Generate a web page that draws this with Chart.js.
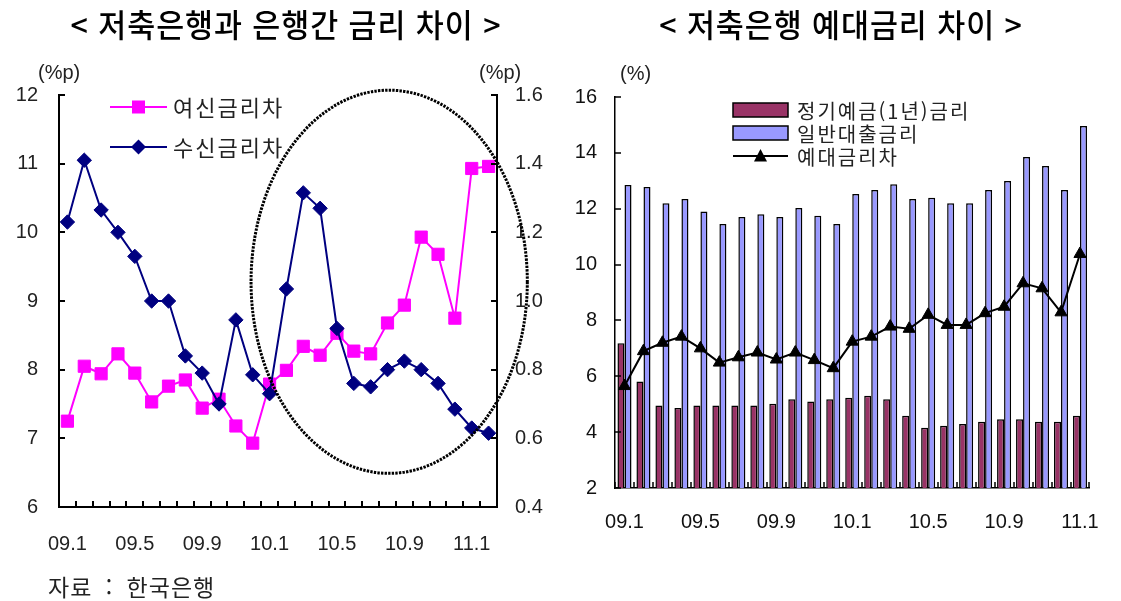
<!DOCTYPE html>
<html lang="ko">
<head>
<meta charset="utf-8">
<title>저축은행 금리 차이</title>
<script src="https://cdn.jsdelivr.net/npm/chart.js@4.4.1/dist/chart.umd.min.js"></script>
<style>
  html, body { margin: 0; padding: 0; background: #fff; }
  #wrap { position: relative; width: 1121px; height: 601px; overflow: hidden; }
  .pane { position: absolute; top: 0; height: 601px; }
  #paneA { left: 0; width: 560px; }
  #paneB { left: 560px; width: 561px; }
  .title {
    position: absolute; top: 3px; white-space: nowrap;
    font-family: "Noto Sans CJK KR", sans-serif; font-size: 32px; font-weight: 500;
    line-height: 40px; color: #000; letter-spacing: 1px;
    transform: translateX(-50%) scaleX(0.95);
  }
  .unit {
    position: absolute; white-space: nowrap; line-height: 20px;
    font-family: "Liberation Sans", Arial, sans-serif; font-size: 20px; color: #222;
  }
  .src {
    position: absolute; left: 48px; top: 572px; white-space: nowrap;
    font-family: "Noto Sans CJK KR", sans-serif; font-size: 23px; line-height: 28px; color: #222;
    letter-spacing: 1px; word-spacing: 6px;
  }
</style>
</head>
<body>
<div id="wrap">
  <div class="pane" id="paneA"><canvas id="gapChart" width="560" height="601"></canvas></div>
  <div class="pane" id="paneB"><canvas id="spreadChart" width="561" height="601"></canvas></div>
  <div class="title" style="left:286px">&lt; 저축은행과 은행간 금리 차이 &gt;</div>
  <div class="title" style="left:841px">&lt; 저축은행 예대금리 차이 &gt;</div>
  <div class="unit" style="left:38px; top:62px">(%p)</div>
  <div class="unit" style="left:479px; top:62px">(%p)</div>
  <div class="unit" style="left:620px; top:63px">(%)</div>
  <div class="src">자료 : 한국은행</div>
</div>
<script>
// 저축은행과 은행간 금리 차이 (09.1 ~ 11.2, 월별)
const gapMonths = ['09.1','09.2','09.3','09.4','09.5','09.6','09.7','09.8','09.9','09.10','09.11','09.12',
                   '10.1','10.2','10.3','10.4','10.5','10.6','10.7','10.8','10.9','10.10','10.11','10.12',
                   '11.1','11.2'];
const lendingGap = [7.25, 8.05, 7.94, 8.23, 7.95, 7.53, 7.76, 7.85, 7.44, 7.57, 7.18, 6.93,
                    7.79, 7.99, 8.34, 8.21, 8.53, 8.27, 8.23, 8.68, 8.94, 9.93, 9.68, 8.75,
                    10.93, 10.96];   // 여신금리차, 왼쪽 축
const depositGap = [1.23, 1.41, 1.265, 1.20, 1.13, 1.00, 1.00, 0.84, 0.79, 0.70, 0.945, 0.785,
                    0.73, 1.035, 1.315, 1.27, 0.92, 0.76, 0.75, 0.80, 0.825, 0.80, 0.76, 0.685,
                    0.63, 0.615];    // 수신금리차, 오른쪽 축
const gapTicksLeft = [6, 7, 8, 9, 10, 11, 12];
const gapTicksRight = [0.4, 0.6, 0.8, 1.0, 1.2, 1.4, 1.6];

// 저축은행 예대금리 (09.1 ~ 11.1)
const rateMonths = gapMonths.slice(0, 25);
const timeDepositRate = [7.18, 5.81, 4.95, 4.86, 4.95, 4.95, 4.95, 4.95, 5.02, 5.18, 5.10, 5.18,
                         5.23, 5.30, 5.18, 4.59, 4.16, 4.23, 4.29, 4.37, 4.46, 4.46, 4.37, 4.37, 4.59];
const loanRate = [12.85, 12.78, 12.20, 12.35, 11.90, 11.45, 11.70, 11.80, 11.70, 12.03, 11.75, 11.45,
                  12.53, 12.67, 12.88, 12.35, 12.39, 12.20, 12.20, 12.67, 12.99, 13.85, 13.53, 12.67, 14.96];
const loanDepositSpread = [5.65, 6.90, 7.20, 7.42, 7.00, 6.49, 6.68, 6.85, 6.60, 6.85, 6.58, 6.29,
                           7.24, 7.42, 7.78, 7.70, 8.20, 7.84, 7.84, 8.26, 8.49, 9.33, 9.15, 8.29, 10.38];
const rateTicks = [2, 4, 6, 8, 10, 12, 14, 16];

const LABEL_EVERY = 4;
const tickFont = { family: '"Liberation Sans", Arial, sans-serif', size: 20 };

// Chart.js only draws tick marks outside the axis; these go inward.
const innerTicks = {
  id: 'innerTicks',
  afterDatasetsDraw(chart, args, o) {
    const { ctx, chartArea: a } = chart;
    const xs = chart.scales.x;
    const n = chart.data.labels.length;
    const half = (xs.getPixelForValue(1) - xs.getPixelForValue(0)) / 2;
    ctx.save();
    ctx.strokeStyle = '#000';
    ctx.lineWidth = o.width;
    ctx.beginPath();
    for (let i = 0; i <= n; i++) {
      const px = Math.round(xs.getPixelForValue(i) - half);
      ctx.moveTo(px, a.bottom);
      ctx.lineTo(px, a.bottom - o.length);
    }
    Object.values(chart.scales).forEach(s => {
      if (s.axis !== 'y') return;
      s.ticks.forEach(t => {
        const py = Math.round(s.getPixelForValue(t.value));
        const x0 = s.position === 'left' ? s.right : s.left;
        const dir = s.position === 'left' ? 1 : -1;
        ctx.moveTo(x0, py);
        ctx.lineTo(x0 + dir * o.length, py);
      });
    });
    ctx.stroke();
    ctx.restore();
  }
};

// fixed axis sizes so both plots sit where they should on the page
const fixWidth = w => scale => { scale.width = w; };
const fixHeight = h => scale => { scale.height = h; };

function everyFourth(labels) {
  return (v, i) => (i % LABEL_EVERY === 0 ? labels[i] : '');
}

function diamond(ctx, x, y, r) {
  ctx.beginPath();
  ctx.moveTo(x, y - r); ctx.lineTo(x + r, y); ctx.lineTo(x, y + r); ctx.lineTo(x - r, y);
  ctx.closePath(); ctx.fill();
}

// 여신/수신 금리차 범례 + 점선 타원 표시
const highlight = { index: 19.1, value: 9.28, spanIndex: 8.2, spanValue: 2.79 };

const gapOverlay = {
  id: 'gapOverlay',
  afterDraw(chart) {
    const { ctx } = chart;
    const xs = chart.scales.x, ys = chart.scales.y;
    const cx = xs.getPixelForValue(highlight.index);
    const cy = ys.getPixelForValue(highlight.value);
    const rx = xs.getPixelForValue(highlight.index + highlight.spanIndex) - cx;
    const ry = cy - ys.getPixelForValue(highlight.value + highlight.spanValue);
    ctx.save();
    ctx.strokeStyle = '#000';
    ctx.lineWidth = 3;
    ctx.setLineDash([2.4, 1.2]);
    ctx.beginPath();
    ctx.ellipse(cx, cy, rx, ry, 0, 0, Math.PI * 2);
    ctx.stroke();
    ctx.restore();

    const ds = chart.data.datasets;
    const rows = [ds.find(d => d.yAxisID === 'y'), ds.find(d => d.yAxisID === 'y1')];
    ctx.save();
    ctx.font = '22px "Noto Sans CJK KR", sans-serif';
    ctx.textBaseline = 'middle';
    rows.forEach((d, k) => {
      const y = 107 + k * 40;
      ctx.strokeStyle = d.borderColor;
      ctx.fillStyle = d.borderColor;
      ctx.lineWidth = 2;
      ctx.beginPath(); ctx.moveTo(110, y); ctx.lineTo(167, y); ctx.stroke();
      if (d.pointStyle === 'rect') ctx.fillRect(132, y - 6.5, 13, 13);
      else diamond(ctx, 138.5, y, 7.5);
      ctx.fillStyle = '#222';
      ctx.letterSpacing = '2px';
      ctx.fillText(d.label, 173, y + 1);
    });
    ctx.restore();
  }
};

new Chart(document.getElementById('gapChart'), {
  type: 'line',
  data: {
    labels: gapMonths,
    datasets: [
      {
        label: '여신금리차', data: lendingGap, yAxisID: 'y', order: 1,
        borderColor: '#FF00FF', backgroundColor: '#FF00FF', borderWidth: 2,
        pointStyle: 'rect', pointRadius: 8.6, pointBorderWidth: 1,
        pointBackgroundColor: '#FF00FF', pointBorderColor: '#FF00FF'
      },
      {
        label: '수신금리차', data: depositGap, yAxisID: 'y1', order: 0,
        borderColor: '#000080', backgroundColor: '#000080', borderWidth: 2,
        pointStyle: 'rectRot', pointRadius: 7.2, pointBorderWidth: 1,
        pointBackgroundColor: '#000080', pointBorderColor: '#000080'
      }
    ]
  },
  options: {
    responsive: false, animation: false,
    layout: { padding: { top: 95, left: 0, right: 0, bottom: 0 } },
    plugins: { legend: { display: false }, tooltip: { enabled: false }, innerTicks: { length: 6, width: 2 } },
    scales: {
      x: {
        offset: true,
        afterFit: fixHeight(94),
        grid: { drawOnChartArea: false, drawTicks: false, offset: true },
        border: { color: '#000', width: 2 },
        ticks: { autoSkip: false, maxRotation: 0, padding: 25, color: '#222', font: tickFont,
                 callback: everyFourth(gapMonths) }
      },
      y: {
        position: 'left', min: gapTicksLeft[0], max: gapTicksLeft[gapTicksLeft.length - 1],
        afterFit: fixWidth(59),
        afterBuildTicks: s => { s.ticks = gapTicksLeft.map(v => ({ value: v })); },
        grid: { drawOnChartArea: false, drawTicks: false },
        border: { color: '#000', width: 2 },
        ticks: { padding: 21, color: '#222', font: tickFont }
      },
      y1: {
        position: 'right', min: gapTicksRight[0], max: gapTicksRight[gapTicksRight.length - 1],
        afterFit: fixWidth(63),
        afterBuildTicks: s => { s.ticks = gapTicksRight.map(v => ({ value: v })); },
        grid: { drawOnChartArea: false, drawTicks: false },
        border: { color: '#000', width: 2 },
        ticks: { padding: 18, color: '#222', font: tickFont, callback: v => v.toFixed(1) }
      }
    }
  },
  plugins: [innerTicks, gapOverlay]
});

// 예대금리 범례
const spreadLegend = {
  id: 'spreadLegend',
  afterDraw(chart) {
    const { ctx } = chart;
    const ds = chart.data.datasets;
    ctx.save();
    ctx.font = '20px "Noto Sans CJK KR", sans-serif';
    ctx.textBaseline = 'middle';
    ctx.letterSpacing = '2px';
    ds.forEach((d, k) => {
      const y = 110 + k * 23;
      if (d.type === 'line') {
        ctx.strokeStyle = '#000'; ctx.lineWidth = 2;
        ctx.beginPath(); ctx.moveTo(173, y); ctx.lineTo(228, y); ctx.stroke();
        ctx.fillStyle = '#000';
        ctx.beginPath();
        ctx.moveTo(200.5, y - 7); ctx.lineTo(207, y + 5.5); ctx.lineTo(194, y + 5.5);
        ctx.closePath(); ctx.fill();
      } else {
        ctx.fillStyle = d.backgroundColor;
        ctx.fillRect(173, y - 7, 55, 14);
        ctx.strokeStyle = '#000'; ctx.lineWidth = 1.5;
        ctx.strokeRect(173, y - 7, 55, 14);
      }
      ctx.fillStyle = '#222';
      ctx.fillText(d.label, 237, y + 1);
    });
    ctx.restore();
  }
};

new Chart(document.getElementById('spreadChart'), {
  data: {
    labels: rateMonths,
    datasets: [
      {
        type: 'bar', label: '정기예금(1년)금리', data: timeDepositRate, order: 1,
        backgroundColor: '#993366', borderColor: '#000', borderWidth: 1.5,
        categoryPercentage: 0.74, barPercentage: 1.0
      },
      {
        type: 'bar', label: '일반대출금리', data: loanRate, order: 1,
        backgroundColor: '#9999FF', borderColor: '#000', borderWidth: 1.5,
        categoryPercentage: 0.74, barPercentage: 1.0
      },
      {
        type: 'line', label: '예대금리차', data: loanDepositSpread, order: 0,
        borderColor: '#000', backgroundColor: '#000', borderWidth: 2,
        pointStyle: 'triangle', pointRadius: 7, pointBorderWidth: 1,
        pointBackgroundColor: '#000', pointBorderColor: '#000'
      }
    ]
  },
  options: {
    responsive: false, animation: false,
    layout: { padding: { top: 97, left: 0, right: 14, bottom: 0 } },
    plugins: { legend: { display: false }, tooltip: { enabled: false }, innerTicks: { length: 6, width: 1.5 } },
    scales: {
      x: {
        offset: true,
        afterFit: fixHeight(113),
        grid: { drawOnChartArea: false, drawTicks: false, offset: true },
        border: { color: '#000', width: 1.5 },
        ticks: { autoSkip: false, maxRotation: 0, padding: 22, color: '#111', font: tickFont,
                 callback: everyFourth(rateMonths) }
      },
      y: {
        position: 'left', min: rateTicks[0], max: rateTicks[rateTicks.length - 1],
        afterFit: fixWidth(55),
        afterBuildTicks: s => { s.ticks = rateTicks.map(v => ({ value: v })); },
        grid: { drawOnChartArea: false, drawTicks: false },
        border: { color: '#000', width: 1.5 },
        ticks: { padding: 18, color: '#111', font: tickFont }
      }
    }
  },
  plugins: [innerTicks, spreadLegend]
});
</script>
</body>
</html>
